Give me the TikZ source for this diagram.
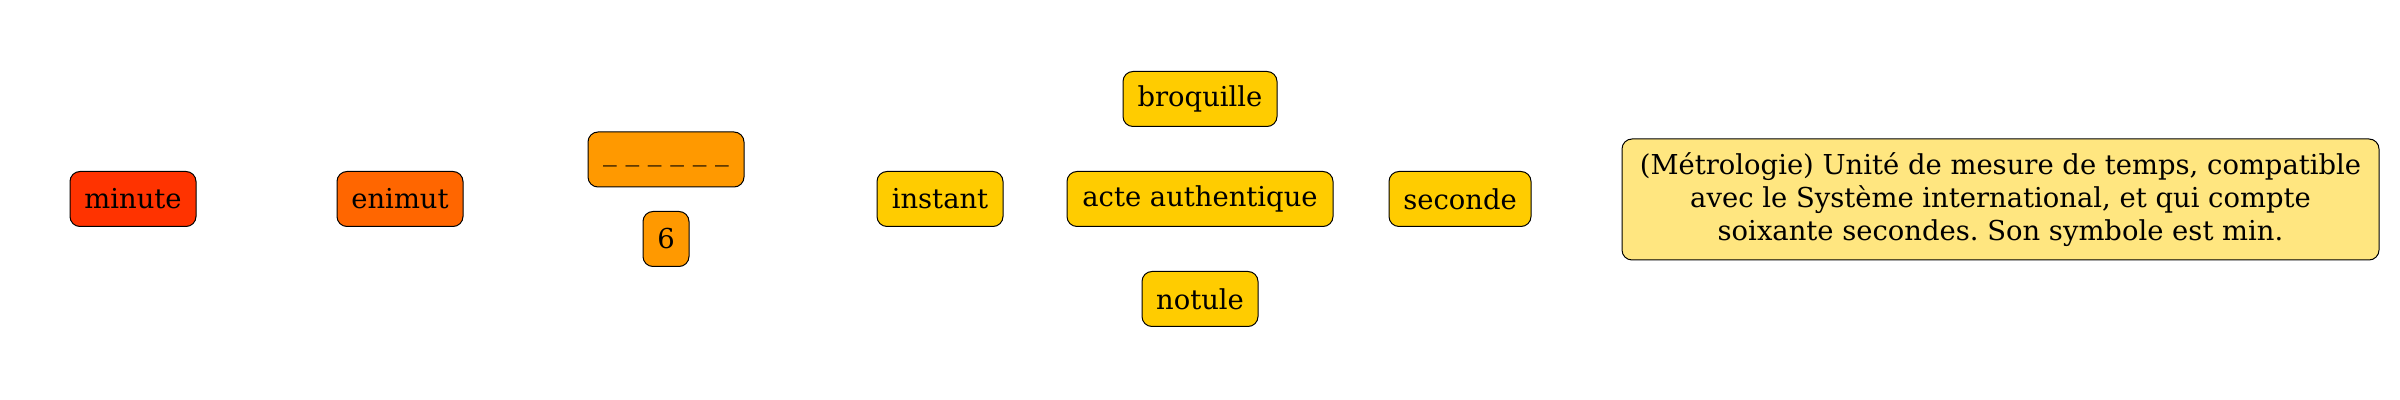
\documentclass[tikz,border=0pt]{standalone}
\usepackage{fontspec}
\setmainfont{DejaVu Serif}
\usepackage{tikz}
\usetikzlibrary{positioning}
\frenchspacing

\begin{document}
\begin{tikzpicture}[x=0.5pt, y=-0.5pt,
    word/.style={draw, rounded corners=5pt, line width=0.5pt, inner sep=0pt,
      minimum height=27.5pt, font=\fontsize{13.7}{16}\selectfont},
    defbox/.style={word, fill=deffill, minimum width=378.5pt, minimum height=60.5pt,
      align=center, font=\fontsize{13.7}{16.5}\selectfont}]
  \definecolor{redfill}{HTML}{FF3300}
  \definecolor{darkorange}{HTML}{FF6600}
  \definecolor{orangefill}{HTML}{FF9900}
  \definecolor{yellowfill}{HTML}{FFCC00}
  \definecolor{deffill}{HTML}{FFE680}
  \useasboundingbox (0,0) rectangle (2400,400);
  \node [word, fill=redfill, minimum width=63pt] (minute) at (133,199) {minute};
  \node [word, fill=darkorange, minimum width=63pt] (enimut) at (400,199) {enimut};
  \node [word, fill=orangefill, minimum width=78pt] (blank) at (666,159.5)
    {\raisebox{-4pt}{\char95\ \char95\ \char95\ \char95\ \char95\ \char95}};
  \node [word, fill=orangefill, minimum width=23pt] (six) at (666,239) {6};
  \node [word, fill=yellowfill, minimum width=63pt] (instant) at (940,199) {instant};
  \node [word, fill=yellowfill, minimum width=77pt] (broquille) at (1200,99) {broquille};
  \node [word, fill=yellowfill, minimum width=133pt] (acte) at (1200,199) {acte authentique};
  \node [word, fill=yellowfill, minimum width=58pt] (notule) at (1200,299) {notule};
  \node [word, fill=yellowfill, minimum width=71pt] (seconde) at (1460,199) {seconde};
  \node [defbox] (definition) at (2000.5,199.5)
    {(Métrologie) Unité de mesure de temps, compatible\\
     avec le Système international, et qui compte\\
     soixante secondes. Son symbole est min.};
\end{tikzpicture}
\end{document}
